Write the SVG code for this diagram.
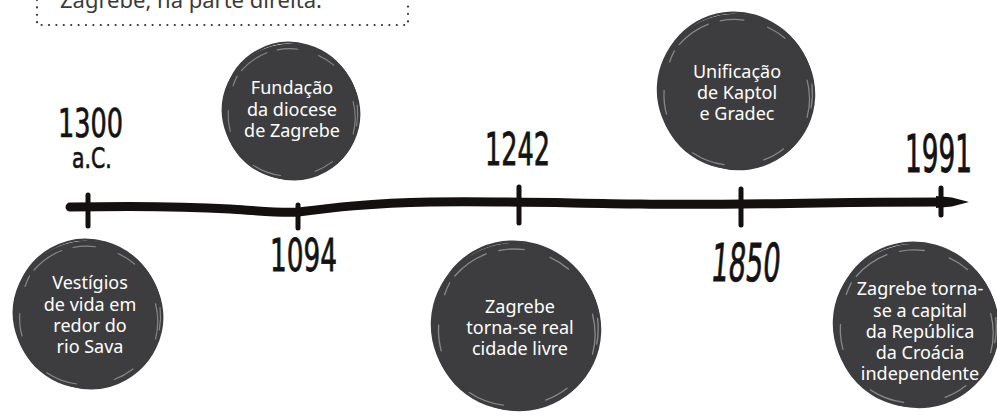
<svg xmlns="http://www.w3.org/2000/svg" xmlns:xlink="http://www.w3.org/1999/xlink" width="997" height="419" viewBox="0 0 997 419">
<style>
.lbl{font-family:"Noto Sans","Open Sans","DejaVu Sans",sans-serif;font-size:18px;fill:#ffffff;text-anchor:middle}
.date{font-family:"DejaVu Sans Condensed","DejaVu Sans",sans-serif;font-weight:normal;fill:#141212;stroke:#141212;stroke-width:0.5}
.intro{font-family:"Noto Sans","Open Sans",sans-serif;font-size:22px;fill:#3a3a3a}
.dots{fill:none;stroke:#333;stroke-width:2.2;stroke-linecap:round;stroke-dasharray:0 7.4}
.tick{stroke:#141010;stroke-width:5;stroke-linecap:round;fill:none}
</style>
<defs>
<symbol id="blob" viewBox="-100 -100 200 200" overflow="visible">
<path d="M -98,0 C -98,-55 -55,-99 0,-99 C 56,-99 100,-52 99,2 C 98,57 54,100 -2,98 C -57,97 -98,54 -98,0 Z" fill="#3d3d40"/>
<ellipse cx="0" cy="0" rx="99" ry="95" transform="rotate(25)" fill="none" stroke="#3d3d40" stroke-width="4"/>
<ellipse cx="1" cy="-1" rx="96" ry="100" transform="rotate(-30)" fill="none" stroke="#3d3d40" stroke-width="3"/>
<g fill="none" stroke="#a0a0a0" stroke-width="1.6" stroke-linecap="round" opacity="0.75">
<path d="M -72,-60 A 94 94 0 0 1 -35,-86"/>
<path d="M -20,-90 A 92 92 0 0 1 10,-91"/>
<path d="M 40,-82 A 92 92 0 0 1 62,-68"/>
<path d="M 90,-15 A 92 92 0 0 1 90,32"/>
<path d="M 96,-10 A 98 98 0 0 1 95,20"/>
<path d="M 60,72 A 94 94 0 0 1 35,86"/>
<path d="M -15,92 A 94 94 0 0 1 -55,77"/>
<path d="M -88,28 A 92 92 0 0 1 -91,-2"/>
<path d="M -84,-38 A 93 93 0 0 1 -78,-52"/>
</g>
</symbol>
</defs>
<rect width="997" height="419" fill="#ffffff"/>

<g id="intro-box">
<text class="intro" x="60" y="8">Zagrebe, na parte direita.</text>
<path class="dots" d="M 37,0 L 37,25 L 408,25 L 408,0"/>
</g>

<g id="connectors">
<path d="M 70,207 C 120,206 180,206 230,209 C 260,211 280,213 298,212 C 330,208 370,203 430,202 C 500,201 560,203 640,204 C 700,205 760,204 820,203 C 880,202 920,202 945,202" fill="none" stroke="#141010" stroke-width="9" stroke-linecap="round"/>
<path d="M 936,196 L 952,197.5 L 969,202 L 952,206.5 L 936,208 Z" fill="#141010"/>
<line class="tick" x1="88" y1="195" x2="88" y2="226"/>
<line class="tick" x1="298" y1="205" x2="298" y2="228"/>
<line class="tick" x1="519" y1="187" x2="519" y2="223"/>
<line class="tick" x1="741" y1="189" x2="741" y2="225"/>
<line class="tick" x1="941" y1="188" x2="941" y2="215"/>
</g>

<g id="ev-1300">
<use xlink:href="#blob" href="#blob" x="13" y="240" width="150" height="150"/>
<text class="lbl"><tspan x="90" y="289">Vestígios</tspan><tspan x="90" y="311">de vida em</tspan><tspan x="90" y="332">redor do</tspan><tspan x="90" y="353">rio Sava</tspan></text>
<text class="date" font-size="28.4" transform="translate(58,137) scale(1,1.4)">1300</text>
<text class="date" font-size="22.7" transform="translate(72,168) scale(1,1.27)">a.C.</text>
</g>

<g id="ev-1094">
<use xlink:href="#blob" href="#blob" x="222" y="43" width="138" height="138"/>
<text class="lbl"><tspan x="292" y="94">Fundação</tspan><tspan x="292" y="116">da diocese</tspan><tspan x="292" y="137">de Zagrebe</tspan></text>
<text class="date" font-size="29.3" transform="translate(270,271) scale(1,1.5)">1094</text>
</g>

<g id="ev-1242">
<use xlink:href="#blob" href="#blob" x="429" y="242" width="174" height="170"/>
<text class="lbl"><tspan x="520" y="313">Zagrebe</tspan><tspan x="520" y="334">torna-se real</tspan><tspan x="520" y="355">cidade livre</tspan></text>
<text class="date" font-size="28.4" transform="translate(485,165) scale(1,1.59)">1242</text>
</g>

<g id="ev-1850">
<use xlink:href="#blob" href="#blob" x="657" y="13" width="158" height="158"/>
<text class="lbl"><tspan x="737" y="78">Unificação</tspan><tspan x="737" y="99">de Kaptol</tspan><tspan x="737" y="120">e Gradec</tspan></text>
<text class="date" font-size="30.2" transform="translate(710,281) skewX(-5) scale(1,1.73)">1850</text>
</g>

<g id="ev-1991">
<use xlink:href="#blob" href="#blob" x="833" y="236" width="166" height="180"/>
<text class="lbl"><tspan x="920" y="295">Zagrebe torna-</tspan><tspan x="920" y="317">se a capital</tspan><tspan x="920" y="338">da República</tspan><tspan x="920" y="359">da Croácia</tspan><tspan x="920" y="380">independente</tspan></text>
<text class="date" font-size="29.3" transform="translate(905,172) scale(1,1.73)">1991</text>
</g>
</svg>
